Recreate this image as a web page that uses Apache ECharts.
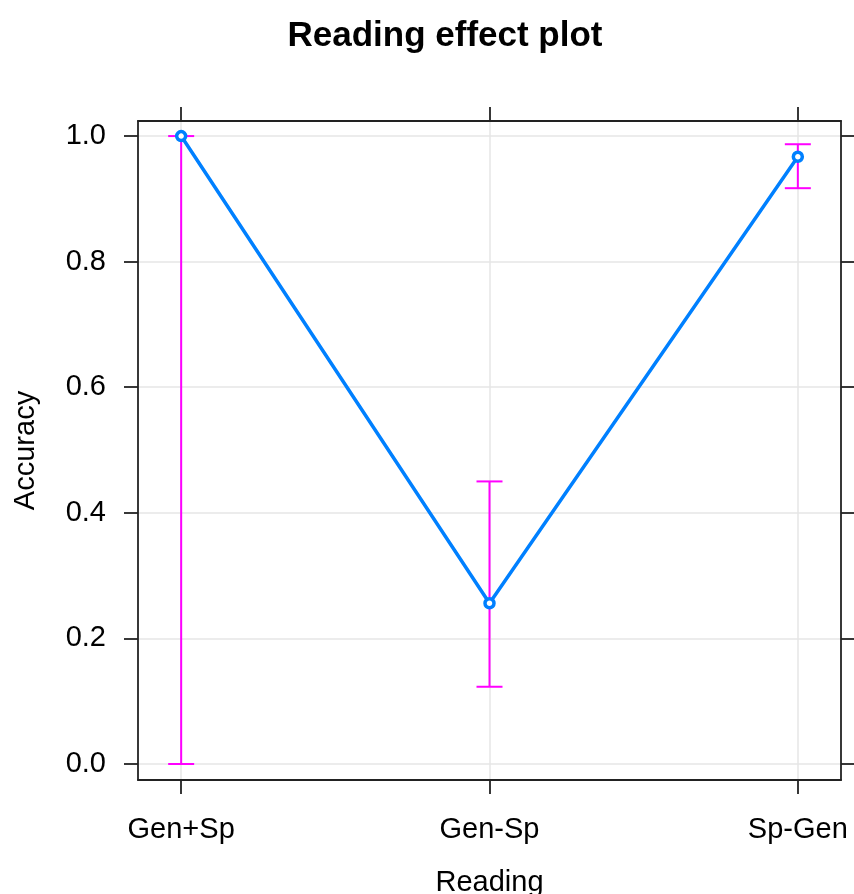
<!DOCTYPE html>
<html>
<head>
<meta charset="utf-8">
<script src="https://cdn.jsdelivr.net/npm/echarts@6/dist/echarts.min.js"></script>
<style>
  html, body { margin: 0; padding: 0; background: #ffffff; }
  #chart { width: 854px; height: 894px; }
</style>
</head>
<body>
<div id="chart"></div>
<script>
// Effect of reading type on accuracy: fitted value with confidence interval
const readings = ['Gen+Sp', 'Gen-Sp', 'Sp-Gen'];
const positions = [1, 2, 3];
const fitted = [1.0, 0.256, 0.967];
const lower = [0.0, 0.123, 0.917];
const upper = [1.0, 0.450, 0.987];
const yTicks = [0, 0.2, 0.4, 0.6, 0.8, 1.0];

const FONT = '"Liberation Sans", Arial, sans-serif';
const AXIS_COLOR = '#222222';
const GRID_COLOR = '#e6e6e6';

const lineData = positions.map((p, i) => [p, fitted[i]]);
const barData = positions.map((p, i) => [p, lower[i], upper[i]]);

const xRange = { min: 0.86, max: 3.14 };
const yRange = { min: -0.0255, max: 1.024 };

const baseX = {
  type: 'value',
  min: xRange.min,
  max: xRange.max,
  axisLine: { show: true, onZero: false, lineStyle: { color: AXIS_COLOR, width: 1.8 } },
  axisTick: { show: true, length: 14, customValues: positions, lineStyle: { color: AXIS_COLOR, width: 1.8 } }
};
const baseY = {
  type: 'value',
  min: yRange.min,
  max: yRange.max,
  axisLine: { show: true, onZero: false, lineStyle: { color: AXIS_COLOR, width: 1.8 } },
  axisTick: { show: true, length: 14, customValues: yTicks, lineStyle: { color: AXIS_COLOR, width: 1.8 } }
};

const chart = echarts.init(document.getElementById('chart'));
chart.setOption({
  animation: false,
  backgroundColor: '#ffffff',
  title: {
    text: 'Reading effect plot',
    left: 440,
    top: 14,
    textAlign: 'center',
    textStyle: { fontFamily: FONT, fontSize: 35, fontWeight: 'bold', color: '#000000' }
  },
  grid: { left: 138, right: 13, top: 121, bottom: 114, containLabel: false, outerBoundsMode: 'none' },
  xAxis: [
    Object.assign({}, baseX, {
      position: 'bottom',
      name: 'Reading',
      nameLocation: 'middle',
      nameGap: 88,
      nameTextStyle: { fontFamily: FONT, fontSize: 29, color: '#000000' },
      axisLabel: {
        show: true,
        customValues: positions,
        margin: 35,
        fontFamily: FONT,
        fontSize: 29,
        color: '#000000',
        formatter: v => readings[Math.round(v) - 1] || ''
      },
      splitLine: { show: true, lineStyle: { color: GRID_COLOR, width: 1.5 } }
    }),
    Object.assign({}, baseX, {
      position: 'top',
      axisLabel: { show: false },
      splitLine: { show: false }
    })
  ],
  yAxis: [
    Object.assign({}, baseY, {
      position: 'left',
      name: 'Accuracy',
      nameLocation: 'middle',
      nameGap: 98,
      nameRotate: 90,
      nameTextStyle: { fontFamily: FONT, fontSize: 29, color: '#000000' },
      axisLabel: {
        show: true,
        customValues: yTicks,
        margin: 32,
        fontFamily: FONT,
        fontSize: 29,
        color: '#000000',
        formatter: v => v.toFixed(1)
      },
      splitLine: { show: true, lineStyle: { color: GRID_COLOR, width: 1.5 } }
    }),
    Object.assign({}, baseY, {
      position: 'right',
      axisLabel: { show: false },
      splitLine: { show: false }
    })
  ],
  series: [
    {
      name: 'interval',
      type: 'custom',
      xAxisIndex: 0,
      yAxisIndex: 0,
      z: 3,
      data: barData,
      renderItem: function (params, api) {
        const x = api.value(0);
        const pLo = api.coord([x, api.value(1)]);
        const pHi = api.coord([x, api.value(2)]);
        const hw = 13;
        const style = { stroke: '#ff00ff', lineWidth: 2, fill: null };
        return {
          type: 'group',
          children: [
            { type: 'line', shape: { x1: pLo[0], y1: pLo[1], x2: pHi[0], y2: pHi[1] }, style: style },
            { type: 'line', shape: { x1: pLo[0] - hw, y1: pLo[1], x2: pLo[0] + hw, y2: pLo[1] }, style: style },
            { type: 'line', shape: { x1: pHi[0] - hw, y1: pHi[1], x2: pHi[0] + hw, y2: pHi[1] }, style: style }
          ]
        };
      }
    },
    {
      name: 'fit',
      type: 'line',
      xAxisIndex: 0,
      yAxisIndex: 0,
      z: 5,
      data: lineData,
      symbol: 'circle',
      symbolSize: 9,
      showAllSymbol: true,
      lineStyle: { color: '#0080ff', width: 3.5 },
      itemStyle: { color: '#ffffff', borderColor: '#0080ff', borderWidth: 3.5 }
    }
  ]
});
</script>
</body>
</html>
